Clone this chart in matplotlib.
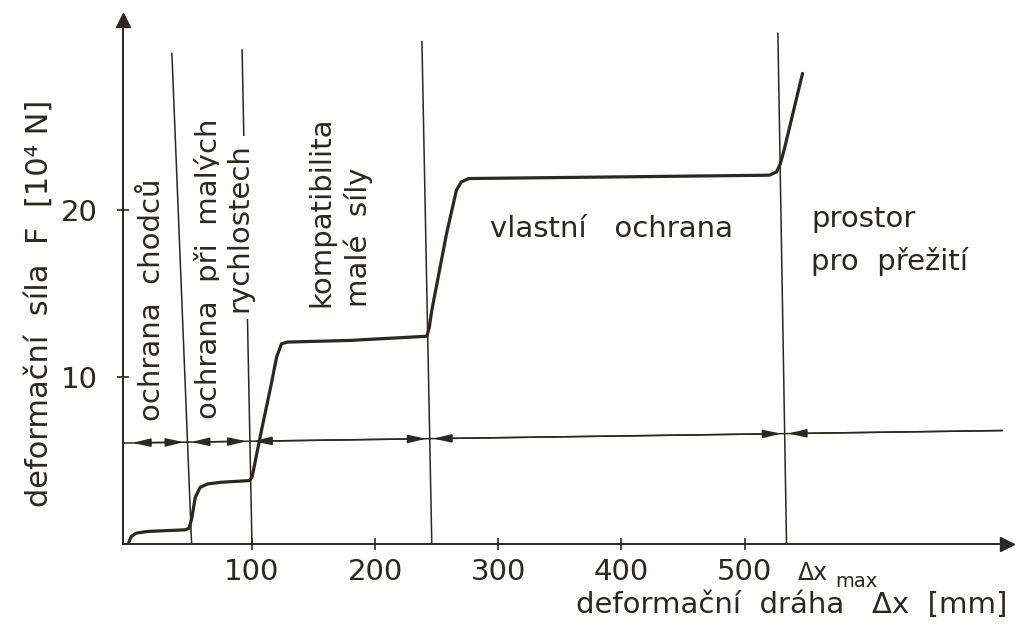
import numpy as np
import matplotlib
matplotlib.use("Agg")
import matplotlib.pyplot as plt

plt.rcParams['font.family'] = ['DejaVu Sans']

INK = '#2b2724'

# deformační charakteristika
curve_x = [0, 2, 6, 15, 30, 46, 49, 51, 54, 58, 64, 75, 98, 100, 102, 104, 108,
           116, 120, 124, 129, 180, 242, 244, 246, 252, 258, 266, 270, 276,
           400, 520, 526, 529, 532, 547]
curve_y = [0.1, 0.45, 0.65, 0.75, 0.8, 0.85, 0.95, 1.5, 2.8, 3.4, 3.6, 3.7, 3.8,
           4.0, 4.7, 5.45, 6.9, 9.7, 11.2, 12.0, 12.1, 12.2, 12.45, 13.0, 14.0,
           16.3, 18.6, 21.2, 21.7, 21.9, 22.0, 22.1, 22.3, 22.8, 23.6, 28.2]

# hranice oblastí (dole na ose x, nahoře šikmo - ručně kresleno)
bound_bottom = [51, 100, 246, 534]
bound_top = [35, 92, 238, 527]
bound_top_y = [29.4, 29.6, 30.1, 30.6]

# vodorovná čára s šipkami
range_x = [-4.7, 709]
range_y = [6.05, 6.8]

x_ticks = [100, 200, 300, 400, 500]
y_ticks = [10, 20]

fig = plt.figure(figsize=(10.2, 6.32), dpi=100)
ax = fig.add_axes([123 / 1020, 88 / 632, 884 / 1020, 524 / 632])
ax.set_xlim(-4.7, 713)
ax.set_ylim(0, 31.4)

for s in ['top', 'right']:
    ax.spines[s].set_visible(False)
for s in ['left', 'bottom']:
    ax.spines[s].set_linewidth(1.4)
    ax.spines[s].set_color(INK)
ax.plot(1, 0, '>', color=INK, ms=10, transform=ax.transAxes, clip_on=False)
ax.plot(0, 1, '^', color=INK, ms=10, transform=ax.transAxes, clip_on=False)

ax.set_xticks(x_ticks)
ax.set_yticks(y_ticks)
ax.tick_params(direction='inout', length=8, width=1.2, color=INK,
               labelcolor=INK, labelsize=21)
ax.tick_params(axis='y', pad=14)
ax.tick_params(axis='x', pad=6)

# křivka
ax.plot(curve_x, curve_y, color=INK, lw=2.3, solid_capstyle='round')

# hranice
for xb, xt, yt in zip(bound_bottom, bound_top, bound_top_y):
    ax.plot([xb, xt], [0, yt], color=INK, lw=1.1)

# čára rozsahů a šipky
ax.plot(range_x, range_y, color=INK, lw=1.1)


def level(x):
    return np.interp(x, range_x, range_y)


cross = [0]
for xb, xt, yt in zip(bound_bottom, bound_top, bound_top_y):
    yl = level(xb)
    cross.append(xb + (xt - xb) * yl / yt)
head = 'head_length=1.1,head_width=0.25'
for a, b in zip(cross[:-1], cross[1:]):
    ax.annotate('', xy=(b, level(b)), xytext=(a, level(a)),
                arrowprops=dict(arrowstyle='<|-|>,' + head,
                                color=INK, lw=1.1, shrinkA=2.5, shrinkB=2.5,
                                mutation_scale=10))
ax.annotate('', xy=(cross[-1], level(cross[-1])), xytext=(range_x[1], range_y[1]),
            arrowprops=dict(arrowstyle='-|>,' + head,
                            color=INK, lw=1.1, shrinkA=0, shrinkB=2.5,
                            mutation_scale=10))

fs = 21
ax.text(19, 7.4, 'ochrana  chodců', rotation=90, ha='center', va='bottom',
        fontsize=fs, color=INK)
ax.text(64.5, 7.5, 'ochrana  při  malých', rotation=90, ha='center', va='bottom',
        fontsize=fs, color=INK)
ax.text(90, 13.9, 'rychlostech', rotation=90, ha='center', va='bottom',
        fontsize=fs, color=INK,
        bbox=dict(facecolor='white', edgecolor='none', pad=5))
ax.text(156, 14.2, 'kompatibilita', rotation=90, ha='center', va='bottom',
        fontsize=fs, color=INK)
ax.text(186, 14.2, 'malé  síly', rotation=90, ha='center', va='bottom',
        fontsize=fs, color=INK)
ax.text(293, 18.9, 'vlastní   ochrana', ha='left', va='center',
        fontsize=fs, color=INK)
ax.text(554, 19.5, 'prostor', ha='left', va='center', fontsize=fs, color=INK)
ax.text(554, 16.9, 'pro  přežití', ha='left', va='center', fontsize=fs, color=INK)

ax.annotate('Δx', xy=(bound_bottom[-1], 0), xytext=(8, -12),
            textcoords='offset points', ha='left', va='top', fontsize=17, color=INK)
ax.annotate('max', xy=(bound_bottom[-1], 0), xytext=(35, -20),
            textcoords='offset points', ha='left', va='top', fontsize=14, color=INK)

ax.set_xlabel('deformační  dráha   Δx  [mm]', loc='right', fontsize=fs,
              color=INK, labelpad=4)
ax.set_ylabel('deformační  síla  F  [10⁴ N]', fontsize=22, color=INK)
ax.yaxis.set_label_coords(-0.078, 0.46)

fig.savefig('out.png', dpi=100, facecolor='white')
